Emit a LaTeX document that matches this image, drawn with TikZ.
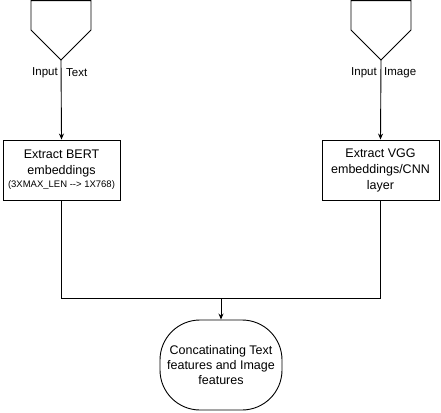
\documentclass[tikz,border=0pt]{standalone}
\usepackage{fontspec}
\setmainfont{Liberation Sans}
\usetikzlibrary{arrows.meta}
\begin{document}
\begin{tikzpicture}[x=1pt,y=-1pt,
  conn/.style={draw,line width=0.9pt,line join=miter},
  procbox/.style={draw,line width=0.9pt,minimum width=117pt,minimum height=60pt,align=center,font=\fontsize{12.5}{16}\selectfont,inner sep=2pt},
  termbox/.style={draw,line width=0.9pt,minimum width=122pt,minimum height=90pt,rounded corners=40pt,align=center,font=\fontsize{12.5}{15}\selectfont},
  lbl/.style={font=\fontsize{11.5}{13}\selectfont,inner sep=0pt},
  arr/.style={-{Stealth[length=6pt,width=5pt]},line width=0.9pt},
  ln/.style={line width=0.9pt}]
\useasboundingbox (0,0) rectangle (441,412);
% off-page connectors
\draw[conn] (31,0.6) -- (91,0.6) -- (91,30) -- (61,60) -- (31,30) -- cycle;
\coordinate (tipL) at (61,60);
\draw[conn] (351,0.6) -- (411,0.6) -- (411,30) -- (381,60) -- (351,30) -- cycle;
\coordinate (tipR) at (381,60);
% labels
\node[lbl,anchor=east] (inL) at (58,73) {Input};
\node[lbl,anchor=west] (txL) at (66,73) {Text};
\node[lbl,anchor=east] (inR) at (377,73) {Input};
\node[lbl,anchor=west] (imR) at (384,73) {Image};
% boxes
\node[procbox] (bert) at (61.5,170) {Extract BERT\\embeddings\\[-3pt]{\fontsize{9.5}{11}\selectfont (3XMAX\_LEN -{}-{}> 1X768)}};
\node[procbox] (vgg) at (380.5,170) {Extract VGG\\embeddings/CNN\\layer};
\node[termbox] (cat) at (221,365) {Concatinating Text\\features and Image\\features};
\coordinate (join) at (221,298);
% connectors
\draw[arr] (tipL) -- (bert.north);
\draw[arr] (tipR) -- (vgg.north);
\draw[ln] (bert.south) |- (join);
\draw[ln] (vgg.south) |- (join);
\draw[arr] (join) -- (cat.north);
\end{tikzpicture}
\end{document}
